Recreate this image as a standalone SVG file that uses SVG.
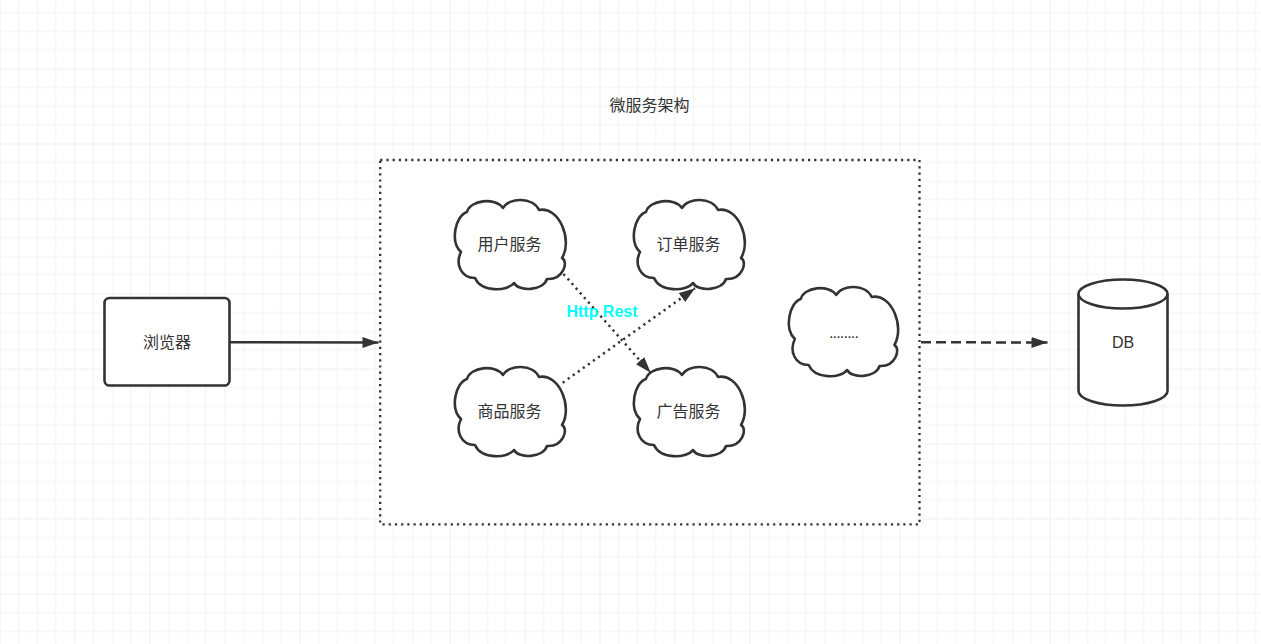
<svg xmlns="http://www.w3.org/2000/svg" xmlns:xlink="http://www.w3.org/1999/xlink" width="1261" height="644" viewBox="0 0 1261 644">
<style>
.lbl{font-family:"Liberation Sans","Noto Sans CJK SC",sans-serif;font-size:16px;fill:#333;text-anchor:middle}
.shape{fill:#fff;stroke:#333;stroke-width:2.6;stroke-linejoin:round}
.conn{fill:none;stroke:#333;stroke-width:2.5}
</style>
<defs>
<pattern id="grid" width="75" height="75" patternUnits="userSpaceOnUse" x="-0.5" y="-6.5">
<path d="M19 0V75M38 0V75M56 0V75M0 19H75M0 38H75M0 56H75" stroke="#f0f0f0" stroke-width="1" fill="none"/>
<path d="M0 0V75M0 0H75" stroke="#e3e3e3" stroke-width="1" fill="none"/>
</pattern>
<path id="cloudShape" d="M14,12 C17,0 42,-3 50,8 C56,-3 80,-3 86,10 C106,6 120,40 109,58 C116,62 110,80 94,79 C90,91 66,92 61,83 C54,92 28,92 22,78 C8,78 2,64 8,52 C-3,42 2,16 14,12 Z"/>
<marker id="arrow" markerUnits="userSpaceOnUse" markerWidth="20" markerHeight="14" refX="16" refY="6" orient="auto">
<path d="M0,0.5 L16,6 L0,11.5 Z" fill="#333"/>
</marker>
</defs>
<rect width="1261" height="644" fill="#fff"/>
<rect width="1261" height="644" fill="url(#grid)"/>

<g id="title">
<text class="lbl" x="649.5" y="111">微服务架构</text>
</g>

<g id="container">
<rect x="380.2" y="160" width="539.3" height="364.3" fill="#fff" stroke="#333" stroke-width="2.3" stroke-dasharray="2.2 4"/>
</g>

<g id="browser">
<rect class="shape" x="104.5" y="298" width="125" height="87.5" rx="5"/>
<text class="lbl" x="167" y="348">浏览器</text>
</g>

<g id="user-service">
<use xlink:href="#cloudShape" href="#cloudShape" class="shape" transform="translate(453,200)"/>
<text class="lbl" x="509.5" y="250">用户服务</text>
</g>

<g id="order-service">
<use xlink:href="#cloudShape" href="#cloudShape" class="shape" transform="translate(632,200)"/>
<text class="lbl" x="688.5" y="250">订单服务</text>
</g>

<g id="product-service">
<use xlink:href="#cloudShape" href="#cloudShape" class="shape" transform="translate(453,367)"/>
<text class="lbl" x="509.5" y="417">商品服务</text>
</g>

<g id="ad-service">
<use xlink:href="#cloudShape" href="#cloudShape" class="shape" transform="translate(632,367)"/>
<text class="lbl" x="688.5" y="417">广告服务</text>
</g>

<g id="more-service">
<use xlink:href="#cloudShape" href="#cloudShape" class="shape" transform="translate(787,287) scale(0.985,1)"/>
<text class="lbl" x="843.5" y="338" style="letter-spacing:-0.8px">........</text>
</g>

<g id="db">
<path class="shape" d="M1078.5,294 A44.5,14.5 0 0 1 1167.5,294 V391 A44.5,14.5 0 0 1 1078.5,391 Z"/>
<path class="conn" stroke-width="2.6" d="M1078.5,294 A44.5,14.5 0 0 0 1167.5,294"/>
<text class="lbl" x="1123" y="348">DB</text>
</g>

<g id="connectors">
<path class="conn" d="M230,342.3 L378.5,342.6" marker-end="url(#arrow)"/>
<path class="conn" d="M563.5,274 L650.7,372.7" stroke-dasharray="2.2 4" marker-end="url(#arrow)"/>
<path class="conn" d="M562.7,382.7 L695,288.3" stroke-dasharray="2.2 4" marker-end="url(#arrow)"/>
<path class="conn" d="M921,342.2 L1047.5,342.6" stroke-width="2.7" stroke-dasharray="10 5" marker-end="url(#arrow)"/>
<text x="602" y="317" style="font-family:'Liberation Sans',sans-serif;font-size:16px;font-weight:bold;fill:#00ffff;text-anchor:middle">Http Rest</text>
</g>
</svg>
